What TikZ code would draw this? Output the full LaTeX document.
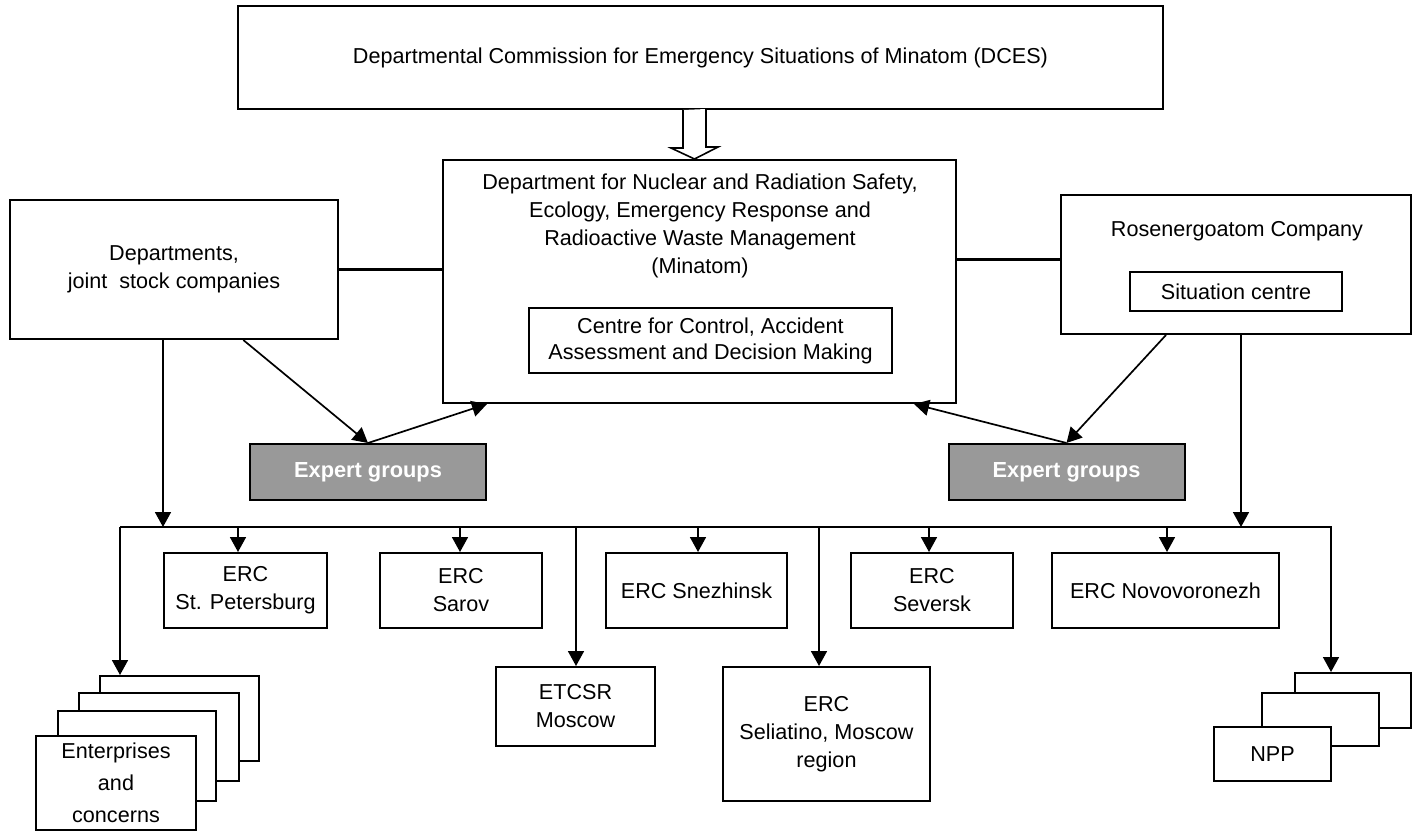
\documentclass[tikz,border=0pt]{standalone}
\usepackage{fontspec}
\setmainfont{Liberation Sans}
\usetikzlibrary{arrows.meta,calc}

\begin{document}
\begin{tikzpicture}[x=0.5pt,y=-0.5pt,
    every node/.style={font=\fontsize{10.8}{14}\selectfont, align=center},
    box/.style={draw, line width=1pt, fill=white, inner sep=2pt},
    expert/.style={box, fill=black!40, text=white, font=\fontsize{10.9}{14}\selectfont\bfseries},
    link/.style={line width=1.5pt},
    arr/.style={line width=0.85pt, -{Triangle[length=7.5pt,width=8pt]}}]
      \useasboundingbox (0,0) rectangle (1412,831);
      \node[box, minimum width=462.5pt, minimum height=51.5pt] (dces) at (700.5,57.5) {Departmental Commission for Emergency Situations of Minatom (DCES)};
      \node[box, minimum width=256.5pt, minimum height=121.5pt] (minatom) at (699.5,281.5) {};
      \node (minatomtext) at (700,226) {Department for Nuclear and Radiation Safety,\\ Ecology, Emergency Response and\\ Radioactive Waste Management\\ (Minatom)};
      \node[box, minimum width=181.5pt, minimum height=32.5pt, font=\fontsize{10.8}{13}\selectfont] (centre) at (710.5,340.5) {Centre for Control, Accident\\ Assessment and Decision Making};
      \node[box, minimum width=164pt, minimum height=69.5pt] (depts) at (174,269.5) {Departments,\\ joint\ \ stock companies};
      \node[box, minimum width=175pt, minimum height=69.5pt] (rosen) at (1236,264.5) {};
      \node (rosentext) at (1237,231) {Rosenergoatom Company};
      \node[box, minimum width=106pt, minimum height=19.5pt] (situ) at (1236,291.5) {Situation centre};
      \node[expert, minimum width=118pt, minimum height=28pt] (expl) at (368,472) {Expert groups};
      \node[expert, minimum width=118pt, minimum height=28pt] (expr) at (1066.5,472) {Expert groups};
      \node[box, minimum width=81.5pt, minimum height=37.5pt] (stp) at (245.5,590.5) {ERC\\ St. Petersburg};
      \node[box, minimum width=81pt, minimum height=37.5pt] (sarov) at (461,590.5) {ERC\\ Sarov};
      \node[box, minimum width=90.5pt, minimum height=37.5pt] (snezh) at (696.5,590.5) {ERC Snezhinsk};
      \node[box, minimum width=81pt, minimum height=37.5pt] (seversk) at (932,590.5) {ERC\\ Seversk};
      \node[box, minimum width=113.5pt, minimum height=37.5pt] (novo) at (1165.5,590.5) {ERC Novovoronezh};
      \node[box, minimum width=79.5pt, minimum height=39.5pt] (etcsr) at (575.5,706.5) {ETCSR\\ Moscow};
      \node[box, minimum width=103.5pt, minimum height=67pt] (seliat) at (826.5,734) {ERC\\ Seliatino, Moscow\\ region};
      \node[box, minimum width=79.5pt, minimum height=42.5pt] (ent3) at (179.5,718.5) {};
      \node[box, minimum width=80pt, minimum height=44pt] (ent2) at (159,737) {};
      \node[box, minimum width=79pt, minimum height=45pt] (ent1) at (137,756) {};
      \node[box, minimum width=80pt, minimum height=47pt, inner sep=1pt, font=\fontsize{10.8}{16}\selectfont] (ent) at (116,783) {Enterprises\\ and\\ concerns};
      \node[box, minimum width=58pt, minimum height=27.5pt] (npp2) at (1353,700.5) {};
      \node[box, minimum width=58.5pt, minimum height=26.5pt] (npp1) at (1320.5,719.5) {};
      \node[box, minimum width=58.5pt, minimum height=27pt] (npp) at (1272.5,754) {NPP};
      \coordinate (hollow) at ($(dces.south)+(-6,0)$);
      \draw[line width=0.8pt, fill=white] ($(hollow)+(-11.5,0)$) -- ++(0,38) -- ++(-12,0) -- (hollow |- minatom.north) -- ++(23.5,-12) -- ++(-12,0) -- ++(0,-38);
      \draw[link] (depts.east) -- (depts.east -| minatom.west);
      \draw[link] ([yshift=2.75pt]rosen.west) -- ([yshift=2.75pt]rosen.west -| minatom.east);
      \draw[arr] ($(depts.south west)!0.71!(depts.south east)$) -- (expl.north);
      \draw[arr] (expl.north) -- ([xshift=22.5pt]minatom.south west);
      \draw[arr] ([xshift=53pt]rosen.south west) -- (expr.north);
      \draw[arr] (expr.north) -- ([xshift=-21.5pt]minatom.south east);
      \coordinate (busw) at (120,527);
      \coordinate (buse) at (1331,527);
      \coordinate (deptsdrop) at ([xshift=-5.5pt]depts.south);
      \coordinate (rosendrop) at ([xshift=2.5pt]rosen.south);
      \draw[arr] (deptsdrop) -- (deptsdrop |- busw);
      \draw[arr] (rosendrop) -- (rosendrop |- buse);
      \draw[arr] (busw) -- (busw |- ent3.north);
      \draw[arr] (busw) -- (buse) -- (buse |- npp2.north);
      \foreach \x/\t in {238/stp, 460/sarov, 576/etcsr, 698/snezh, 819/seliat, 929/seversk, 1167/novo}
        \draw[arr] (\x,527) -- (\t.north -| \x,527);
\end{tikzpicture}
\end{document}
